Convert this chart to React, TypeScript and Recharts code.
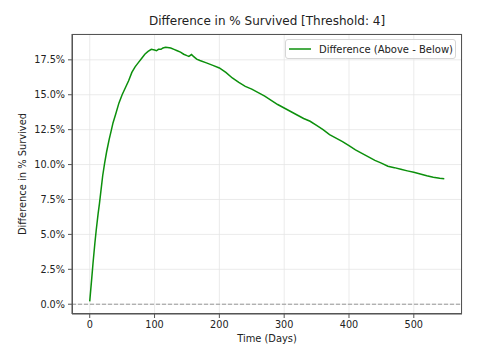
import { LineChart, Line, XAxis, YAxis, CartesianGrid, ReferenceLine } from 'recharts';

// days since start and % survived difference (above - below threshold)
const days = [
  0, 3, 5, 8, 10, 13, 15, 18, 20, 23, 26, 30, 33, 36, 40, 45, 50, 55, 60, 65,
  70, 75, 80, 85, 90, 95, 100, 103, 106, 110, 113, 117, 120, 125, 130, 135, 140, 145, 150, 153,
  157, 160, 165, 170, 180, 190, 200, 210, 220, 230, 240, 250, 260, 270, 280, 290, 300, 310, 320, 330,
  340, 350, 360, 370, 380, 390, 400, 410, 420, 430, 440, 450, 460, 470, 480, 490, 500, 510, 520, 530,
  540, 547,
];
const diffValues = [
  0.2, 1.8, 2.9, 4.4, 5.3, 6.5, 7.2, 8.4, 9.2, 10.1, 10.9, 11.8, 12.4, 13.0, 13.6, 14.4, 15.0, 15.5, 16.0, 16.6,
  17.0, 17.3, 17.6, 17.9, 18.1, 18.25, 18.2, 18.15, 18.25, 18.25, 18.35, 18.4, 18.38, 18.35, 18.25, 18.15, 18.05, 17.9, 17.8, 17.75,
  17.88, 17.75, 17.55, 17.45, 17.28, 17.1, 16.92, 16.6, 16.2, 15.88, 15.6, 15.4, 15.15, 14.9, 14.6, 14.3, 14.05, 13.8, 13.55, 13.3,
  13.1, 12.8, 12.5, 12.15, 11.9, 11.65, 11.35, 11.05, 10.8, 10.55, 10.3, 10.1, 9.88, 9.78, 9.66, 9.55, 9.45, 9.33, 9.2, 9.1,
  9.02, 8.98,
];
const xTicks = [0, 100, 200, 300, 400, 500];
const yTicks = [0, 2.5, 5, 7.5, 10, 12.5, 15, 17.5];

const data = days.map((d, i) => ({ day: d, diff: diffValues[i] }));

const FONT = '"DejaVu Sans", sans-serif';
const GREEN = '#0c900c';
const FRAME = '#555';
const TEXT = '#222';

export default function App() {
  return (
    <div style={{ position: 'absolute', left: 0, top: 0, width: 480, height: 364, background: '#fff' }}>
      <div style={{ position: 'absolute', left: 72, width: 390, top: 14, textAlign: 'center', fontFamily: FONT, fontSize: 12, color: TEXT }}>
        Difference in % Survived [Threshold: 4]
      </div>
      <div style={{
        position: 'absolute', left: 22, top: 174, transform: 'translate(-50%, -50%) rotate(-90deg)', whiteSpace: 'nowrap',
        fontFamily: FONT, fontSize: 9.9, color: TEXT,
      }}>
        Difference in % Survived
      </div>
      <div style={{ position: 'absolute', left: 72, width: 390, top: 333, textAlign: 'center', fontFamily: FONT, fontSize: 9.9, color: TEXT }}>
        Time (Days)
      </div>
      <LineChart width={480} height={364} data={data} margin={{ top: 34, right: 18, bottom: 0, left: 0 }}>
        <CartesianGrid stroke="#e6e6e6" strokeWidth={0.8} />
        <XAxis
          dataKey="day"
          type="number"
          domain={[-27.35, 574.35]}
          ticks={xTicks}
          height={50}
          tickSize={4}
          tickMargin={3}
          stroke={FRAME}
          tick={{ fontFamily: FONT, fontSize: 9.7, fill: TEXT }}
        />
        <YAxis
          type="number"
          domain={[-0.7, 19.35]}
          ticks={yTicks}
          width={72}
          tickSize={4}
          tickMargin={3}
          stroke={FRAME}
          allowDataOverflow
          tickFormatter={(v: number) => `${v.toFixed(1)}%`}
          tick={{ fontFamily: FONT, fontSize: 9.7, fill: TEXT }}
        />
        <ReferenceLine y={0} stroke="#999" strokeDasharray="4 2" strokeWidth={1} />
        <Line
          dataKey="diff"
          name="Difference (Above - Below)"
          stroke={GREEN}
          strokeWidth={1.5}
          dot={false}
          isAnimationActive={false}
        />
      </LineChart>
      <div style={{
        position: 'absolute', left: 285, top: 39, width: 171, height: 20, boxSizing: 'border-box',
        border: '1px solid #d6d6d6', borderRadius: 3, background: 'rgba(255,255,255,0.85)',
        display: 'flex', alignItems: 'center', fontFamily: FONT, fontSize: 10, color: TEXT, whiteSpace: 'nowrap',
      }}>
        <svg width={30} height={10} style={{ marginLeft: 3, flexShrink: 0 }}>
          <line x1={0} y1={5} x2={22} y2={5} stroke={GREEN} strokeWidth={1.5} />
        </svg>
        <span>Difference (Above - Below)</span>
      </div>
      <div style={{
        position: 'absolute', left: 72, top: 34, width: 390, height: 280, boxSizing: 'border-box',
        border: `1px solid ${FRAME}`, pointerEvents: 'none',
      }} />
    </div>
  );
}
